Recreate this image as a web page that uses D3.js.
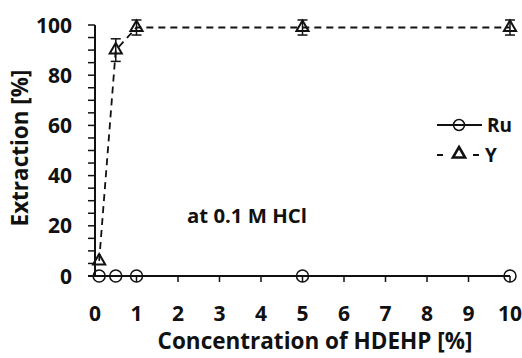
<!DOCTYPE html>
<html>
<head>
<meta charset="utf-8">
<script src="https://cdn.jsdelivr.net/npm/d3@7"></script>
<style>
  body { margin: 0; background: #fff; }
  text { font-family: "Open Sans", sans-serif; font-weight: 700; fill: #111; }
</style>
</head>
<body>
<script>
// data
const conc = [0.1, 0.5, 1, 5, 10];
const ruVals = [0, 0, 0, 0, 0];
const yVals = [6, 90, 99, 99, 99];
const yErr = [0, 4.5, 3, 3, 3];
const xTicks = [0, 1, 2, 3, 4, 5, 6, 7, 8, 9, 10];
const yTicks = [0, 20, 40, 60, 80, 100];

const w = 522, h = 358;

const svg = d3.select("body")
  .append("svg")
  .attr("width", w)
  .attr("height", h);

const x = d3.scaleLinear().domain([0, 10]).range([95, 510]);
const y = d3.scaleLinear().domain([0, 100]).range([276, 25]);

// shrink/grow a text so it spans the width seen in the figure
function fitWidth(sel, target) {
  const len = sel.node().getComputedTextLength();
  const fs = parseFloat(sel.style("font-size"));
  sel.style("font-size", (fs * target / len) + "px");
}

// y axis with minor ticks every 5
const yAxis = svg.append("g").attr("transform", "translate(95,0)");
yAxis.append("line")
  .attr("y1", y(0)).attr("y2", y(100))
  .attr("stroke", "#111").attr("stroke-width", 2);
yAxis.selectAll(".minor")
  .data(d3.range(0, 101, 5))
  .enter()
  .append("line")
  .attr("x1", -7).attr("x2", 0)
  .attr("y1", d => y(d)).attr("y2", d => y(d))
  .attr("stroke", "#111").attr("stroke-width", 1.5);
yAxis.selectAll(".lbl")
  .data(yTicks)
  .enter()
  .append("text")
  .attr("x", -23)
  .attr("y", d => y(d))
  .attr("dy", "0.36em")
  .attr("text-anchor", "end")
  .style("font-size", "21px")
  .text(d => d);

// x axis
const xAxis = svg.append("g");
xAxis.append("line")
  .attr("x1", x(0) - 7).attr("x2", x(10))
  .attr("y1", y(0)).attr("y2", y(0))
  .attr("stroke", "#111").attr("stroke-width", 2);
xAxis.selectAll(".tick")
  .data(xTicks.slice(1))
  .enter()
  .append("line")
  .attr("x1", d => x(d)).attr("x2", d => x(d))
  .attr("y1", y(0)).attr("y2", y(0) + 6)
  .attr("stroke", "#111").attr("stroke-width", 1.5);
xAxis.selectAll(".lbl")
  .data(xTicks)
  .enter()
  .append("text")
  .attr("x", d => x(d))
  .attr("y", 313)
  .attr("dy", "0.36em")
  .attr("text-anchor", "middle")
  .style("font-size", "21px")
  .text(d => d);

const xTitle = svg.append("text")
  .attr("x", 315).attr("y", 349)
  .attr("text-anchor", "middle")
  .style("font-size", "20px")
  .text("Concentration of HDEHP [%]");
fitWidth(xTitle, 315);

const yTitle = svg.append("text")
  .attr("transform", "translate(20,148) rotate(-90)")
  .attr("dy", "0.36em")
  .attr("text-anchor", "middle")
  .style("font-size", "20px")
  .text("Extraction [%]");
fitWidth(yTitle, 157);

const note = svg.append("text")
  .attr("x", 187).attr("y", 223)
  .style("font-size", "18px")
  .text("at 0.1 M HCl");
fitWidth(note, 120);

// Ru series
svg.append("path")
  .datum(conc.map((c, i) => [c, ruVals[i]]))
  .attr("fill", "none").attr("stroke", "#111").attr("stroke-width", 1.8)
  .attr("d", d3.line().x(d => x(d[0])).y(d => y(d[1])));

// Y series
const yData = conc.map((c, i) => ({ c: c, v: yVals[i], e: yErr[i] }));
svg.append("path")
  .datum(yData)
  .attr("fill", "none").attr("stroke", "#111").attr("stroke-width", 1.8)
  .attr("stroke-dasharray", "7,5")
  .attr("d", d3.line().x(d => x(d.c)).y(d => y(d.v)));

const eb = svg.selectAll(".err")
  .data(yData.filter(d => d.e > 0))
  .enter()
  .append("g")
  .attr("stroke", "#111").attr("stroke-width", 1.5);
eb.append("line")
  .attr("x1", d => x(d.c)).attr("x2", d => x(d.c))
  .attr("y1", d => y(d.v + d.e)).attr("y2", d => y(d.v - d.e));
eb.append("line")
  .attr("x1", d => x(d.c) - 5).attr("x2", d => x(d.c) + 5)
  .attr("y1", d => y(d.v + d.e)).attr("y2", d => y(d.v + d.e));
eb.append("line")
  .attr("x1", d => x(d.c) - 5).attr("x2", d => x(d.c) + 5)
  .attr("y1", d => y(d.v - d.e)).attr("y2", d => y(d.v - d.e));

const tri = d3.symbol().type(d3.symbolTriangle).size(64);
svg.selectAll(".tri")
  .data(yData)
  .enter()
  .append("path")
  .attr("d", tri)
  .attr("transform", d => `translate(${x(d.c)},${y(d.v)})`)
  .attr("fill", "none").attr("stroke", "#111").attr("stroke-width", 2);

svg.selectAll(".circ")
  .data(conc.map((c, i) => [c, ruVals[i]]))
  .enter()
  .append("circle")
  .attr("cx", d => x(d[0])).attr("cy", d => y(d[1]))
  .attr("r", 6)
  .attr("fill", "none").attr("stroke", "#111").attr("stroke-width", 1.5);

// legend
const lg = svg.append("g");
lg.append("line")
  .attr("x1", 437).attr("x2", 482).attr("y1", 125).attr("y2", 125)
  .attr("stroke", "#111").attr("stroke-width", 1.8);
lg.append("circle")
  .attr("cx", 459).attr("cy", 125).attr("r", 5.5)
  .attr("fill", "none").attr("stroke", "#111").attr("stroke-width", 1.5);
const ruLbl = lg.append("text")
  .attr("x", 487).attr("y", 125).attr("dy", "0.36em")
  .style("font-size", "18px")
  .text("Ru");
fitWidth(ruLbl, 25);
lg.selectAll(".dash")
  .data([[437, 443], [473, 479]])
  .enter()
  .append("line")
  .attr("x1", d => d[0]).attr("x2", d => d[1])
  .attr("y1", 155).attr("y2", 155)
  .attr("stroke", "#111").attr("stroke-width", 2);
lg.append("path")
  .attr("d", tri)
  .attr("transform", "translate(459,154)")
  .attr("fill", "none").attr("stroke", "#111").attr("stroke-width", 2.6);
lg.append("text")
  .attr("x", 485).attr("y", 155).attr("dy", "0.36em")
  .style("font-size", ruLbl.style("font-size"))
  .text("Y");
</script>
</body>
</html>
